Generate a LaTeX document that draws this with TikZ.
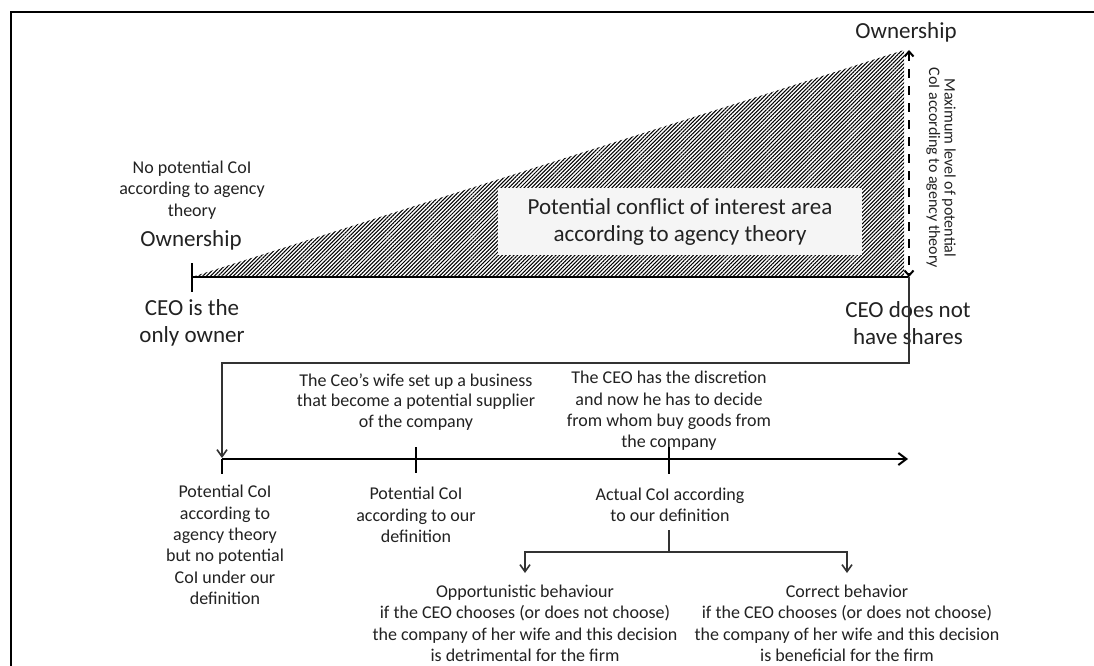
\documentclass[tikz,border=0pt]{standalone}
\usepackage{fontspec}
\setmainfont{Carlito}
\usetikzlibrary{patterns.meta,arrows.meta}
\definecolor{txt}{HTML}{222222}
\begin{document}
\begin{tikzpicture}[x=1pt,y=-1pt,
  lbl/.style={inner sep=0pt,align=center,text=txt},
  small/.style={lbl,font=\fontsize{18}{21.3}\selectfont},
  big/.style={lbl,font=\fontsize{23}{27}\selectfont},
  axisline/.style={line width=2.4pt,draw=black},
  conn/.style={line width=1.4pt,draw=black!80},
  barb/.style={-{Straight Barb[length=7pt,width=10pt,line width=1.6pt]}},
  dashedarrow/.style={line width=2pt,draw=black,dash pattern=on 9pt off 8pt,
     {Straight Barb[length=5pt,width=9pt,line width=2pt]}-{Straight Barb[length=5pt,width=9pt,line width=2pt]}}]
\useasboundingbox (0,0) rectangle (1094,666);
\fill[white] (0,0) rectangle (1094,666);
\draw[line width=2pt] (10.5,666) -- (10.5,12) -- (1094,12);

% upper part
\coordinate (o) at (192,277);
\coordinate (apex) at (904,50);
\coordinate (br) at (904,277);
\coordinate (m) at (909,277);
\coordinate (mt) at (909,50);
\fill[pattern={Lines[angle=45,distance=2.7pt,line width=1.05pt]},pattern color=black] (o) -- (apex) -- (br) -- cycle;
\node[big,fill=black!4,minimum width=364pt,minimum height=67pt] (area) at (680,221.5)
  {Potential conflict of interest area\\according to agency theory};
\draw[axisline] (192,263) -- (192,292);
\draw[axisline] (o) -- (m);
\draw[dashedarrow] (mt) -- (m);

\node[small] (np) at (192,190) {No potential CoI\\according to agency\\theory};
\node[big] (own1) at (191,240) {Ownership};
\node[big] (ceo1) at (192,323) {CEO is the\\only owner};
\node[big] (own2) at (906,32) {Ownership};
\node[big] (ceo2) at (908,323) {CEO does not\\have shares};
\node[lbl,font=\fontsize{16}{15.6}\selectfont,rotate=-90] (rot) at (941,168)
  {Maximum level of  potential\\CoI according to agency theory};

% connector to timeline
\coordinate (t1) at (222,459);
\coordinate (t2) at (416,459);
\coordinate (t3) at (669,459);
\coordinate (tend) at (908,459);
\draw[conn,barb] (m) -- (909,363) -- (222,363) -- (222,458);
\draw[axisline,-{Straight Barb[length=8pt,width=12pt,line width=2pt]}] (t1) -- (tend);
\draw[axisline] (t1) -- (222,474);
\draw[axisline] (416,447) -- (416,473);
\draw[axisline] (669,447) -- (669,474);

\node[small,font=\fontsize{18}{20.5}\selectfont] (wife) at (416,402)
  {The Ceo’s wife set up a business\\that become a potential supplier\\of the company};
\node[small] (disc) at (669,411)
  {The CEO has the discretion\\and now he has to decide\\from whom buy goods from\\the company};
\node[small] (b1) at (225,545)
  {Potential CoI\\according to\\agency theory\\but no potential\\CoI under our\\definition};
\node[small] (b2) at (416,515) {Potential CoI\\according to our\\definition};
\node[small] (b3) at (670,505) {Actual CoI according\\to our definition};

% branches
\coordinate (bs) at (669,530);
\coordinate (bj) at (669,552);
\draw[conn] (bs) -- (bj);
\draw[conn,barb] (bj) -- (525,552) -- (525,573);
\draw[conn,barb] (bj) -- (847,552) -- (847,573);

\node[small,font=\fontsize{18}{21.5}\selectfont] (opp) at (525,623.5)
  {Opportunistic behaviour\\if the CEO chooses (or does not choose)\\the company of her wife and this decision\\is detrimental for the firm};
\node[small,font=\fontsize{18}{21.5}\selectfont] (corr) at (847,623.5)
  {Correct behavior\\if the CEO chooses (or does not choose)\\the company of her wife and this decision\\is beneficial for the firm};
\end{tikzpicture}
\end{document}
